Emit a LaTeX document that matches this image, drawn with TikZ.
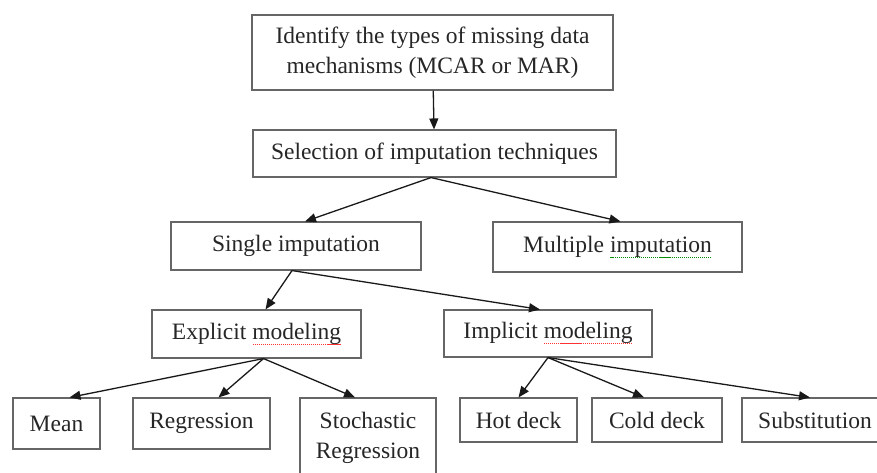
\documentclass[tikz,border=0pt]{standalone}
\usepackage{fontspec}
\setmainfont{Liberation Serif}
\usetikzlibrary{arrows.meta}
\tikzstyle{bx} = [rectangle, draw=black!60, line width=1.1pt, inner sep=0pt,
    text=black!85, align=center, font=\fontsize{23.5}{30}\selectfont]
% dotted spell-check mark under a word
\newcommand{\spellmark}[2]{\setbox0\hbox{#2}\rlap{\raisebox{-5.5pt}{\textcolor{#1}{\hbox to \wd0{\xleaders\hbox to 2pt{\hss\rule{1.2pt}{1pt}\hss}\hfill}}}}\box0}

\begin{document}
\begin{tikzpicture}[x=1pt,y=-1pt,
                    every edge/.style={draw,-{Triangle[length=11pt,width=9pt,fill=black!90]},black!90,line width=1.3pt}]
  \useasboundingbox (0,0) rectangle (877,472);

  \node[bx,minimum width=361pt,minimum height=75pt] (ident)  at (432.5,52.5) {Identify the types of missing data\\mechanisms (MCAR or MAR)};
  \node[bx,minimum width=363pt,minimum height=47pt] (select) at (434.5,153.5) {Selection of imputation techniques};
  \node[bx,minimum width=250pt,minimum height=48pt] (single) at (296,246) {Single imputation};
  \node[bx,minimum width=249pt,minimum height=50pt] (multi)  at (617.5,247) {Multiple \spellmark{green!55!black}{imputation}};
  \node[bx,minimum width=209pt,minimum height=48pt] (expl)   at (256.5,334) {Explicit \spellmark{red!80}{modeling}};
  \node[bx,minimum width=208pt,minimum height=47pt] (impl)   at (548,333.5) {Implicit \spellmark{red!80}{modeling}};
  \node[bx,minimum width=87pt,minimum height=51pt]  (mean)   at (56.5,423.5) {Mean};
  \node[bx,minimum width=137pt,minimum height=51pt] (regr)   at (201.5,423.5) {Regression};
  \node[bx,minimum width=136pt,minimum height=80pt] (stoch)  at (368,438) {Stochastic\\Regression};
  \node[bx,minimum width=117pt,minimum height=44pt] (hot)    at (518.5,420) {Hot deck};
  \node[bx,minimum width=130pt,minimum height=44pt] (cold)   at (657,420) {Cold deck};
  \node[bx,minimum width=146pt,minimum height=44pt] (subst)  at (815,420) {Substitution};

  \path (ident) edge (select)
        ([xshift=-3.5pt]select.south) edge ([xshift=9pt]single.north)
        ([xshift=-3.5pt]select.south) edge ([xshift=3pt]multi.north)
        ([xshift=-4pt]single.south) edge ([xshift=9pt]expl.north)
        ([xshift=-4pt]single.south) edge ([xshift=-8pt]impl.north)
        ([xshift=7pt]expl.south) edge ([xshift=13pt]mean.north)
        ([xshift=7pt]expl.south) edge ([xshift=17pt]regr.north)
        ([xshift=7pt]expl.south) edge ([xshift=-13pt]stoch.north)
        (impl.south) edge (hot.north)
        (impl.south) edge ([xshift=-13pt]cold.north)
        (impl.south) edge ([xshift=-5pt]subst.north);
\end{tikzpicture}
\end{document}
